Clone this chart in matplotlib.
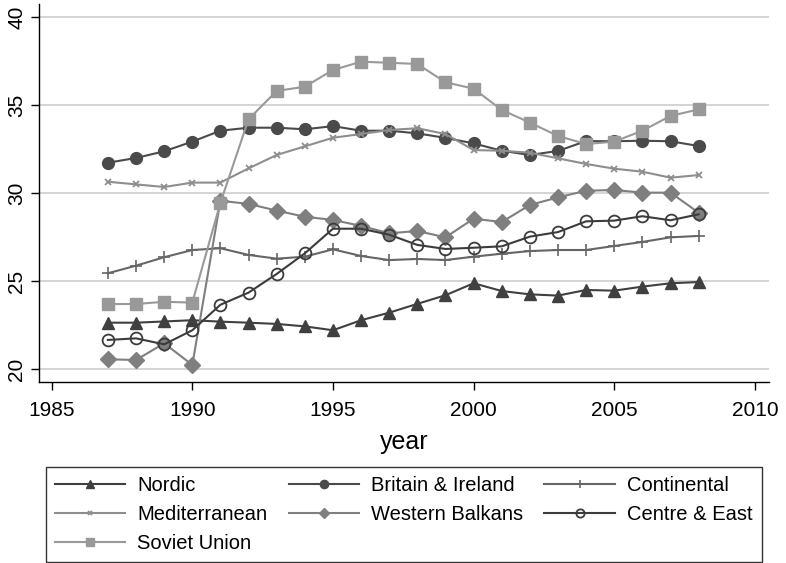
import matplotlib
matplotlib.use("Agg")
import matplotlib.pyplot as plt

years = list(range(1987, 2009))

nordic = [22.63, 22.63, 22.70, 22.77, 22.69, 22.63, 22.56, 22.42, 22.20, 22.77, 23.20,
          23.70, 24.19, 24.87, 24.43, 24.24, 24.17, 24.49, 24.45, 24.68, 24.87, 24.94]
britain = [31.72, 31.99, 32.37, 32.92, 33.54, 33.71, 33.71, 33.62, 33.80, 33.54, 33.54,
           33.39, 33.13, 32.82, 32.40, 32.16, 32.39, 32.95, 32.94, 32.97, 32.94, 32.67]
continental = [25.44, 25.87, 26.35, 26.76, 26.86, 26.48, 26.27, 26.38, 26.80, 26.42, 26.19,
               26.25, 26.19, 26.38, 26.55, 26.70, 26.76, 26.76, 26.99, 27.22, 27.48, 27.56]
mediterranean = [30.64, 30.49, 30.34, 30.59, 30.59, 31.40, 32.16, 32.65, 33.14, 33.35, 33.58,
                 33.68, 33.35, 32.44, 32.40, 32.29, 31.97, 31.65, 31.38, 31.21, 30.87, 31.02]
balkans = [20.55, 20.51, 21.46, 20.23, 29.56, 29.38, 29.00, 28.65, 28.47, 28.13, 27.71,
           27.84, 27.48, 28.54, 28.35, 29.32, 29.75, 30.13, 30.17, 30.02, 30.02, 28.88]
centre_east = [21.65, 21.74, 21.40, 22.20, 23.65, 24.34, 25.40, 26.57, 27.97, 27.97, 27.63,
               27.05, 26.82, 26.89, 26.97, 27.52, 27.78, 28.39, 28.43, 28.68, 28.45, 28.79]
soviet = [23.69, 23.69, 23.82, 23.77, 29.45, 34.19, 35.80, 36.04, 36.99, 37.46, 37.40,
          37.33, 36.29, 35.93, 34.72, 34.00, 33.24, 32.78, 32.92, 33.54, 34.38, 34.75]

x_ticks = [1985, 1990, 1995, 2000, 2005, 2010]
y_ticks = [20, 25, 30, 35, 40]

plt.rcParams["font.family"] = ["Liberation Sans", "DejaVu Sans"]

fig = plt.figure(figsize=(7.86, 5.63), dpi=100)
ax = fig.add_axes([0.0496, 0.3215, 0.9284, 0.6714])

for y in y_ticks:
    ax.axhline(y, color="#d4d4d4", lw=1.4, zorder=0)

lines = {}
lines["Nordic"] = ax.plot(years, nordic, color="#404040", lw=1.5, marker="^",
                          ms=9, mec="#404040", mfc="#404040", label="Nordic")[0]
lines["Britain"] = ax.plot(years, britain, color="#4a4a4a", lw=1.5, marker="o",
                           ms=8.5, mfc="#4a4a4a", mec="#4a4a4a", label="Britain & Ireland")[0]
lines["Continental"] = ax.plot(years, continental, color="#666666", lw=1.5, marker="+",
                               ms=9, mew=1.2, label="Continental")[0]
lines["Mediterranean"] = ax.plot(years, mediterranean, color="#8e8e8e", lw=1.5, marker="x",
                                 ms=4.5, mew=1.3, label="Mediterranean")[0]
lines["Balkans"] = ax.plot(years, balkans, color="#7f7f7f", lw=1.5, marker="D",
                           ms=8, mfc="#7f7f7f", mec="#7f7f7f", label="Western Balkans")[0]
lines["Centre"] = ax.plot(years, centre_east, color="#3c3c3c", lw=1.5, marker="o",
                          ms=8.5, mfc="none", mec="#3c3c3c", mew=1.3, label="Centre & East")[0]
lines["Soviet"] = ax.plot(years, soviet, color="#999999", lw=1.5, marker="s",
                          ms=8.5, mfc="#999999", mec="#999999", label="Soviet Union")[0]

ax.set_xlim(1984.55, 2010.49)
ax.set_ylim(19.26, 40.74)
ax.set_xticks(x_ticks)
ax.set_yticks(y_ticks)
ax.tick_params(axis="x", labelsize=15, length=6, width=1, pad=8)
ax.tick_params(axis="y", labelsize=15, length=6, width=1, pad=3)
for lab in ax.get_yticklabels():
    lab.set_rotation(90)
    lab.set_va("center")
ax.spines["top"].set_visible(False)
ax.spines["right"].set_visible(False)
ax.spines["left"].set_linewidth(1)
ax.spines["bottom"].set_linewidth(1)
ax.set_xlabel("year", fontsize=18, labelpad=7)

order = ["Nordic", "Mediterranean", "Soviet", "Britain", "Balkans", "Continental", "Centre"]
handles = [lines[k] for k in order]
leg = fig.legend(handles, [h.get_label() for h in handles], ncol=3,
                 loc="upper left", bbox_to_anchor=(0.058, 0.0, 0.911, 0.17),
                 mode="expand", borderaxespad=0, fontsize=14.5, frameon=True,
                 fancybox=False, edgecolor="black", handlelength=3.5, markerscale=0.7,
                 borderpad=0.45, labelspacing=0.48, handletextpad=0.6,
                 columnspacing=1.0)
leg.get_frame().set_linewidth(1)

fig.savefig("out.png", dpi=100)
